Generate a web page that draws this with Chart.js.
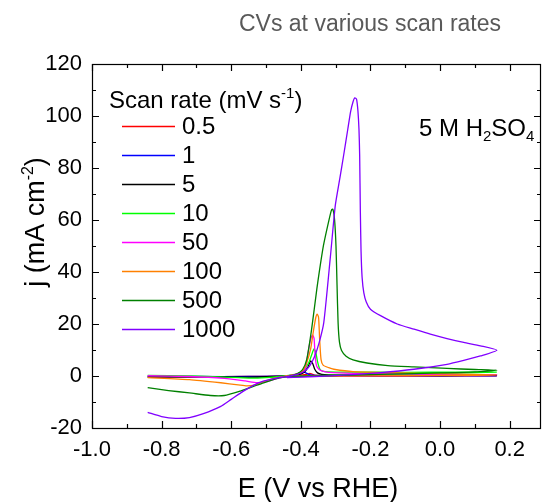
<!DOCTYPE html>
<html>
<head>
<meta charset="utf-8">
<script src="https://cdn.jsdelivr.net/npm/chart.js@4.4.1/dist/chart.umd.min.js"></script>
<style>
  html, body { margin: 0; padding: 0; background: #ffffff; }
  #wrap { width: 542px; height: 502px; }
</style>
</head>
<body>
<div id="wrap"><canvas id="cv" width="542" height="502"></canvas></div>
<script>
// Scan rates (mV/s) and their trace colours
const scanRates = ['0.5', '1', '5', '10', '50', '100', '500', '1000'];
const lineColors = ['#FF0000', '#0000FF', '#000000', '#00FF00', '#FF00FF', '#FF8000', '#008000', '#8000FF'];

// Axis tick positions
const xMajorTicks = [-1.0, -0.8, -0.6, -0.4, -0.2, 0.0, 0.2];
const xMinorTicks = [-0.9, -0.7, -0.5, -0.3, -0.1, 0.1];
const yMajorTicks = [-20, 0, 20, 40, 60, 80, 100, 120];
const yMinorTicks = [-10, 10, 30, 50, 70, 90, 110];

// Each trace: potential E (V vs RHE) and current density j (mA cm^-2),
// cathodic region -> anodic stripping peak -> upper vertex -> return sweep
const E_0p5 = [-0.84, -0.70, -0.55, -0.45, -0.41, -0.39, -0.38, -0.374, -0.368, -0.36, -0.34, -0.20, 0.00, 0.163, 0.00, -0.20, -0.40, -0.45];
const j_0p5 = [-0.4, -0.3, -0.2, 0.0, 0.2, 0.5, 0.8, 1.0, 0.7, 0.3, 0.15, 0.1, 0.1, 0.1, 0.0, -0.05, -0.1, -0.1];

const E_1 = [-0.84, -0.70, -0.55, -0.45, -0.42, -0.40, -0.391, -0.384, -0.375, -0.36, -0.30, 0.00, 0.163, 0.00, -0.30, -0.45];
const j_1 = [-0.2, -0.2, -0.2, 0.0, 0.4, 1.0, 1.5, 1.1, 0.5, 0.2, 0.1, 0.1, 0.1, 0.0, -0.05, -0.1];

const E_5 = [-0.84, -0.70, -0.55, -0.45, -0.41, -0.39, -0.38, -0.372, -0.366, -0.36, -0.352, -0.34, -0.32, -0.20, 0.00, 0.163, 0.00, -0.30, -0.45];
const j_5 = [-0.3, -0.3, -0.4, -0.1, 0.4, 1.5, 3.3, 5.8, 4.8, 2.6, 1.2, 0.6, 0.4, 0.3, 0.3, 0.3, 0.2, 0.0, -0.2];

const E_10 = [-0.84, -0.72, -0.62, -0.55, -0.50, -0.45, -0.41, -0.39, -0.377, -0.368, -0.362, -0.357, -0.352, -0.346, -0.338, -0.32, -0.25, -0.10, 0.05, 0.163, 0.05, -0.10, -0.25, -0.40, -0.45];
const j_10 = [0.2, 0.0, -0.4, -0.8, -0.6, 0.0, 0.8, 2.5, 5.2, 8.5, 10.4, 9.2, 5.5, 2.8, 1.9, 1.6, 1.5, 1.4, 1.5, 1.5, 1.1, 0.7, 0.4, 0.0, -0.2];

const E_50 = [-0.84, -0.72, -0.62, -0.56, -0.526, -0.50, -0.47, -0.44, -0.41, -0.39, -0.385, -0.378, -0.372, -0.366, -0.362, -0.359, -0.355, -0.348, -0.34, -0.32, -0.25, -0.10, 0.05, 0.163, 0.05, -0.10, -0.25, -0.40, -0.44];
const j_50 = [0.1, -0.2, -0.9, -1.9, -2.6, -2.2, -1.0, 0.0, 0.8, 2.0, 3.9, 10.0, 14.0, 15.7, 14.5, 8.0, 4.0, 2.6, 2.0, 1.4, 1.0, 0.8, 0.6, 0.5, 0.3, 0.1, 0.0, -0.2, -0.3];

const E_100 = [-0.84, -0.72, -0.63, -0.58, -0.555, -0.53, -0.51, -0.48, -0.44, -0.41, -0.395, -0.383, -0.372, -0.363, -0.357, -0.353, -0.349, -0.346, -0.342, -0.336, -0.32, -0.305, -0.25, -0.11, 0.05, 0.163, 0.05, -0.10, -0.30, -0.44];
const j_100 = [-0.6, -1.4, -2.6, -3.4, -3.8, -3.4, -2.3, -1.0, 0.0, 0.8, 2.0, 5.2, 10.3, 18.0, 22.5, 23.8, 22.5, 14.2, 6.4, 4.2, 3.2, 2.6, 1.7, 1.2, 0.7, 0.4, 0.2, 0.1, 0.0, -0.1];

const E_500 = [-0.84, -0.78, -0.72, -0.66, -0.62, -0.574, -0.54, -0.507, -0.469, -0.43, -0.41, -0.395, -0.383, -0.369, -0.354, -0.335, -0.32, -0.312, -0.308, -0.303, -0.299, -0.296, -0.293, -0.289, -0.283, -0.27, -0.25, -0.21, -0.15, -0.075, 0.02, 0.10, 0.163, 0.10, 0.00, -0.15, -0.30, -0.43];
const j_500 = [-4.5, -5.6, -6.5, -7.5, -7.5, -5.8, -4.2, -2.6, -1.0, 0.0, 0.9, 2.5, 6.4, 18.0, 33.5, 50.2, 59.5, 63.8, 64.2, 60.0, 50.0, 35.0, 20.6, 13.0, 9.8, 7.6, 6.2, 5.0, 4.0, 3.5, 2.9, 2.5, 2.2, 1.6, 1.2, 0.7, 0.2, -0.2];

const E_1000 = [-0.84, -0.80, -0.76, -0.72, -0.68, -0.63, -0.60, -0.566, -0.535, -0.508, -0.475, -0.44, -0.41, -0.39, -0.375, -0.36, -0.347, -0.334, -0.315, -0.301, -0.288, -0.277, -0.265, -0.257, -0.25, -0.245, -0.24, -0.236, -0.233, -0.231, -0.229, -0.227, -0.224, -0.219, -0.212, -0.20, -0.171, -0.123, -0.075, -0.028, 0.02, 0.068, 0.116, 0.163, 0.116, 0.068, 0.02, -0.075, -0.171, -0.267, -0.363, -0.44];
const j_1000 = [-14.0, -15.6, -16.3, -16.0, -14.5, -11.7, -9.0, -5.9, -3.5, -2.0, -0.9, -0.2, 0.6, 1.8, 3.8, 7.7, 13.0, 20.6, 46.0, 65.6, 76.0, 84.9, 95.0, 101.7, 105.5, 107.0, 106.5, 102.0, 95.0, 85.0, 63.0, 48.0, 38.0, 32.0, 28.5, 25.7, 23.2, 20.0, 18.0, 16.1, 14.4, 12.9, 11.6, 9.9, 7.7, 6.0, 4.5, 2.6, 1.3, 0.4, -0.2, -0.6];

const potentials = [E_0p5, E_1, E_5, E_10, E_50, E_100, E_500, E_1000];
const currents = [j_0p5, j_1, j_5, j_10, j_50, j_100, j_500, j_1000];

const FONT = '"Liberation Sans", Arial, Helvetica, sans-serif';

// Later scan rates are painted over earlier ones
const datasets = scanRates.map((rate, i) => ({
  label: rate,
  data: potentials[i].map((e, k) => ({ x: e, y: currents[i][k] })),
  borderColor: lineColors[i],
  backgroundColor: lineColors[i],
  borderWidth: 1.3,
  pointRadius: 0,
  showLine: true,
  fill: false,
  tension: 0.2,
  order: scanRates.length - i
}));

// Draw a run of text pieces (normal / superscript / subscript) starting at x
function richWidth(ctx, parts) {
  let w = 0;
  for (const p of parts) { ctx.font = p.size + 'px ' + FONT; w += ctx.measureText(p.t).width; }
  return w;
}
function drawRich(ctx, parts, x, y) {
  let cx = x;
  for (const p of parts) {
    ctx.font = p.size + 'px ' + FONT;
    ctx.fillText(p.t, cx, y + (p.dy || 0));
    cx += ctx.measureText(p.t).width;
  }
}

const framePlugin = {
  id: 'frameTicks',
  afterDatasetsDraw(chart) {
    const { ctx, chartArea: a, scales: { x, y } } = chart;
    ctx.save();
    ctx.strokeStyle = '#000000';
    ctx.lineWidth = 1.2;
    ctx.strokeRect(Math.round(a.left) + 0.5, Math.round(a.top) + 0.5, Math.round(a.right - a.left) - 1, Math.round(a.bottom - a.top));
    ctx.beginPath();
    const tick = (px, len, horiz) => {
      px = Math.round(px) + 0.5;
      if (horiz) {
        ctx.moveTo(px, a.bottom); ctx.lineTo(px, a.bottom - len);
        ctx.moveTo(px, a.top); ctx.lineTo(px, a.top + len);
      } else {
        ctx.moveTo(a.left, px); ctx.lineTo(a.left + len, px);
        ctx.moveTo(a.right, px); ctx.lineTo(a.right - len, px);
      }
    };
    xMajorTicks.forEach(v => tick(x.getPixelForValue(v), 7, true));
    xMinorTicks.forEach(v => tick(x.getPixelForValue(v), 4, true));
    yMajorTicks.forEach(v => tick(y.getPixelForValue(v), 7, false));
    yMinorTicks.forEach(v => tick(y.getPixelForValue(v), 4, false));
    ctx.stroke();
    ctx.restore();
  },
  afterDraw(chart) {
    const ctx = chart.ctx;
    ctx.save();
    ctx.textBaseline = 'alphabetic';
    ctx.textAlign = 'left';

    // Chart title
    ctx.fillStyle = '#595959';
    ctx.font = '23px ' + FONT;
    ctx.textAlign = 'center';
    ctx.fillText('CVs at various scan rates', 370, 31);
    ctx.textAlign = 'left';

    ctx.fillStyle = '#000000';

    // X-axis title
    ctx.font = '27px ' + FONT;
    ctx.textAlign = 'center';
    ctx.fillText('E (V vs RHE)', 318, 497);
    ctx.textAlign = 'left';

    // Y-axis title with superscript
    const yParts = [{ t: 'j (mA cm', size: 27 }, { t: '-2', size: 16, dy: -11 }, { t: ')', size: 27 }];
    ctx.save();
    ctx.translate(44, 222);
    ctx.rotate(-Math.PI / 2);
    drawRich(ctx, yParts, -richWidth(ctx, yParts) / 2, 0);
    ctx.restore();

    // Electrolyte annotation with subscripts
    const eParts = [{ t: '5 M H', size: 24 }, { t: '2', size: 15, dy: 5 }, { t: 'SO', size: 24 }, { t: '4', size: 15, dy: 5 }];
    drawRich(ctx, eParts, 419, 136);

    // Legend
    const lt = [{ t: 'Scan rate (mV s', size: 24 }, { t: '-1', size: 15, dy: -10 }, { t: ')', size: 24 }];
    drawRich(ctx, lt, 109, 108);
    ctx.textBaseline = 'middle';
    chart.data.datasets.forEach((ds, i) => {
      const yy = 126 + 29 * i;
      ctx.strokeStyle = ds.borderColor;
      ctx.lineWidth = 1.5;
      ctx.beginPath();
      ctx.moveTo(122, yy + 0.5);
      ctx.lineTo(175, yy + 0.5);
      ctx.stroke();
      ctx.font = '24px ' + FONT;
      ctx.fillStyle = '#000000';
      ctx.fillText(ds.label, 182, yy + 1);
    });
    ctx.restore();
  }
};

new Chart(document.getElementById('cv'), {
  type: 'scatter',
  data: { datasets },
  options: {
    responsive: false,
    animation: false,
    devicePixelRatio: 1,
    layout: { padding: { left: 0, right: 1, top: 64, bottom: 0 } },
    plugins: {
      legend: { display: false },
      title: { display: false },
      tooltip: { enabled: false }
    },
    scales: {
      x: {
        type: 'linear',
        min: -1.0,
        max: 0.29,
        grid: { display: false, drawTicks: false },
        border: { display: false },
        afterBuildTicks: s => { s.ticks = xMajorTicks.map(v => ({ value: v })); },
        afterFit: s => { s.height = 74; },
        ticks: {
          padding: 9,
          color: '#000000',
          font: { family: FONT, size: 22 },
          maxRotation: 0,
          autoSkip: false,
          callback: v => Number(v).toFixed(1)
        }
      },
      y: {
        type: 'linear',
        min: -20,
        max: 120,
        grid: { display: false, drawTicks: false },
        border: { display: false },
        afterBuildTicks: s => { s.ticks = yMajorTicks.map(v => ({ value: v })); },
        afterFit: s => { s.width = 92; },
        ticks: {
          padding: 10,
          color: '#000000',
          font: { family: FONT, size: 22 },
          autoSkip: false,
          callback: v => String(v)
        }
      }
    }
  },
  plugins: [framePlugin]
});
</script>
</body>
</html>
